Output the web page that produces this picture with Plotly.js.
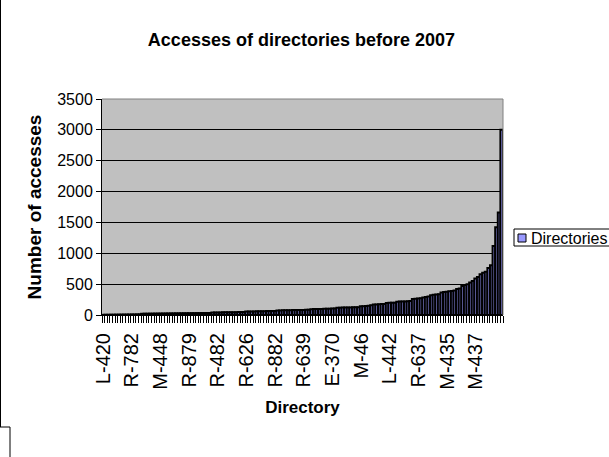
<!DOCTYPE html>
<html>
<head>
<meta charset="utf-8">
<script src="https://cdn.plot.ly/plotly-3.0.1.min.js"></script>
<style>
  html, body { margin: 0; padding: 0; background: #ffffff; }
  #chart { width: 609px; height: 457px; }
</style>
</head>
<body>
<div id="chart"></div>
<script>
// Access counts per directory before 2007, sorted ascending
const accesses = [
  3, 4, 4, 5, 5, 6, 6, 7, 7, 8, 8, 9, 9, 10, 11,
  20, 21, 21, 22, 22, 23, 23, 24, 24, 25, 25, 26, 26, 27, 27, 28, 28, 29, 29, 30, 30, 31, 31, 32, 32, 33, 34,
  40, 41, 42, 42, 43, 44, 44, 45, 46, 46, 47, 48, 49,
  55, 56, 57, 58, 59, 60, 61, 62, 63, 64, 65, 66,
  72, 74, 75, 76, 77, 78, 79, 80, 81, 82, 83, 84, 85,
  95, 96, 97, 98, 99, 100, 101, 102, 104, 105,
  118, 119, 120, 121, 122, 123, 124, 125, 126,
  140, 143, 145, 148,
  158, 170, 172, 175, 177, 178,
  195, 197, 199, 200,
  215, 217, 218, 220, 222, 225,
  260, 265, 268, 270,
  285, 292, 298,
  320, 328, 333, 338,
  365, 372, 376,
  385, 390, 395,
  420, 430,
  470, 485, 500, 525, 550, 590, 615, 660, 685, 700, 760, 805, 1120, 1420, 1660, 3000
];

// Directory names shown on the category axis (every 11th directory)
const directoryLabels = [
  "L-420", "R-782", "M-448", "R-879", "R-482", "R-626", "R-882",
  "R-639", "E-370", "M-46", "L-442", "R-637", "M-435", "M-437"
];
const labelStep = 11;

const seriesName = "Directories";
const yTicks = [0, 500, 1000, 1500, 2000, 2500, 3000, 3500];

const positions = accesses.map((_, i) => i);
const labelPositions = directoryLabels.map((_, i) => i * labelStep);

const FONT = "Liberation Sans, Arial, Helvetica, sans-serif";

// plot area in pixels
const W = 609, H = 457;
const M = { l: 102, r: 106, t: 99, b: 142 };
const pw = W - M.l - M.r, ph = H - M.t - M.b;
const px = x => (x - M.l) / pw;
const py = y => (H - M.b - y) / ph;

const trace = {
  type: "bar",
  name: seriesName,
  x: positions,
  y: accesses,
  marker: { color: "#9999FF", line: { color: "#000000", width: 2 } },
  hoverinfo: "y"
};

const layout = {
  width: W,
  height: H,
  margin: M,
  paper_bgcolor: "#ffffff",
  plot_bgcolor: "#C0C0C0",
  showlegend: false,
  bargap: 0,
  font: { family: FONT, color: "#000000" },
  title: {
    text: "<b>Accesses of directories before 2007</b>",
    font: { family: FONT, size: 18, color: "#000000" },
    x: 0.495, xanchor: "center",
    y: 1 - 40 / H, yanchor: "middle"
  },
  xaxis: {
    range: [-0.5, accesses.length - 0.5],
    tickmode: "array",
    tickvals: labelPositions,
    ticktext: directoryLabels,
    tickangle: -90,
    ticks: "outside",
    ticklen: 9,
    tickcolor: "rgba(0,0,0,0)",
    tickfont: { family: FONT, size: 20, color: "#000000" },
    minor: {
      tickmode: "linear",
      tick0: -0.5,
      dtick: 1,
      ticks: "outside",
      ticklen: 7,
      tickwidth: 1,
      tickcolor: "#000000",
      showgrid: false
    },
    showline: true,
    linecolor: "#000000",
    linewidth: 1,
    showgrid: false,
    zeroline: false,
    fixedrange: true,
    title: {
      text: "<b>Directory</b>",
      font: { family: FONT, size: 17, color: "#000000" },
      standoff: 12
    }
  },
  yaxis: {
    range: [0, 3500],
    tickmode: "array",
    tickvals: yTicks,
    ticktext: yTicks.map(String),
    ticks: "outside",
    ticklen: 5,
    tickcolor: "#000000",
    tickfont: { family: FONT, size: 16, color: "#000000" },
    showline: true,
    linecolor: "#000000",
    linewidth: 1,
    showgrid: true,
    gridcolor: "#000000",
    gridwidth: 1,
    zeroline: false,
    fixedrange: true,
    title: {
      text: "<b>Number of accesses</b>",
      font: { family: FONT, size: 19, color: "#000000" },
      standoff: 10
    }
  },
  shapes: [
    // plot area frame (top and right edges)
    { type: "line", xref: "paper", yref: "paper", x0: 0, x1: 1, y0: 1, y1: 1,
      line: { color: "#808080", width: 1 } },
    { type: "line", xref: "paper", yref: "paper", x0: 1, x1: 1, y0: 0, y1: 1,
      line: { color: "#808080", width: 1 } },
    // chart area border
    { type: "line", xref: "paper", yref: "paper", x0: px(0.5), x1: px(0.5), y0: py(0), y1: py(427),
      line: { color: "#000000", width: 1 } },
    { type: "line", xref: "paper", yref: "paper", x0: px(0), x1: px(10), y0: py(427), y1: py(427),
      line: { color: "#000000", width: 1 } },
    { type: "line", xref: "paper", yref: "paper", x0: px(10), x1: px(10), y0: py(427), y1: py(457),
      line: { color: "#000000", width: 1 } },
    // legend box and swatch
    { type: "rect", xref: "paper", yref: "paper", x0: px(514), x1: px(620), y0: py(246), y1: py(229),
      fillcolor: "#ffffff", line: { color: "#000000", width: 1 } },
    { type: "rect", xref: "paper", yref: "paper", x0: px(518), x1: px(526), y0: py(242), y1: py(234),
      fillcolor: "#9999FF", line: { color: "#000000", width: 1 } }
  ],
  annotations: [
    { xref: "paper", yref: "paper", x: px(529), y: py(238), xanchor: "left", yanchor: "middle",
      text: seriesName, showarrow: false,
      font: { family: FONT, size: 16, color: "#000000" } }
  ]
};

Plotly.newPlot("chart", [trace], layout, { staticPlot: true, displayModeBar: false });
</script>
</body>
</html>
